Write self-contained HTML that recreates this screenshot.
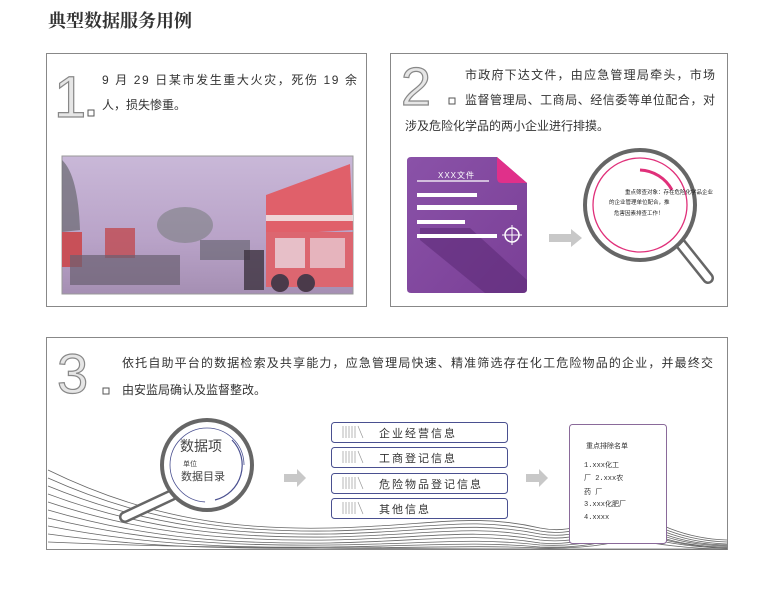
<!DOCTYPE html>
<html><head><meta charset="utf-8"><style>
html,body{margin:0;padding:0;background:#fff;}
svg{display:block;font-family:"Liberation Sans","Noto Sans CJK SC",sans-serif;}
</style></head><body>
<svg width="773" height="592" viewBox="0 0 773 592" xmlns="http://www.w3.org/2000/svg">
<defs>
<linearGradient id="ph" x1="0" y1="0" x2="0" y2="1">
<stop offset="0" stop-color="#c9b8d8"/><stop offset="0.6" stop-color="#b9a3c8"/><stop offset="1" stop-color="#a58fb3"/></linearGradient>
<linearGradient id="doc" x1="0" y1="0" x2="1" y2="1"><stop offset="0" stop-color="#8a52a8"/><stop offset="1" stop-color="#7a3f96"/></linearGradient>
</defs>
<text x="48" y="27" font-size="18" font-weight="bold" fill="#333" font-family="Liberation Serif,'Noto Serif CJK SC',serif">典型数据服务用例</text>

<!-- panel 1 -->
<rect x="46.5" y="53.5" width="320" height="253" fill="#fff" stroke="#888" stroke-width="1"/>
<text x="54" y="117" font-size="58" fill="#e6e6e6" stroke="#888" stroke-width="1.2">1</text>
<rect x="88" y="110" width="6" height="6" fill="none" stroke="#555"/>
<text x="102" y="84" font-size="12" fill="#333" textLength="255">9 月 29 日某市发生重大火灾，死伤 19 余</text>
<text x="102" y="109" font-size="12" fill="#333">人，损失惨重。</text>
<rect x="62" y="156" width="291" height="138" fill="url(#ph)" stroke="#999"/>
<path d="M62 160 Q78 175 80 230 L62 232Z" fill="#6a6a70" opacity=".7"/>
<ellipse cx="185" cy="225" rx="28" ry="18" fill="#7c7f82" opacity=".6"/>
<rect x="62" y="232" width="20" height="35" fill="#c85058"/>
<rect x="105" y="228" width="30" height="30" fill="#c05058" opacity=".85"/>
<rect x="70" y="255" width="110" height="30" fill="#6a6070" opacity=".7"/>
<rect x="200" y="240" width="50" height="20" fill="#55585e" opacity=".55"/>
<path d="M266 195 L350 164 L353 230 L266 235Z" fill="#e0606a"/>
<rect x="266" y="215" width="87" height="6" fill="#f3f3f3" opacity=".8"/>
<rect x="266" y="232" width="87" height="55" fill="#dc6670"/>
<rect x="275" y="238" width="30" height="30" fill="#ead6de" opacity=".8"/>
<rect x="310" y="238" width="35" height="30" fill="#ead6de" opacity=".7"/>
<circle cx="280" cy="283" r="9" fill="#4a3a4a"/><circle cx="306" cy="283" r="9" fill="#4a3a4a"/>
<rect x="244" y="250" width="20" height="40" fill="#3d3340" opacity=".8"/>

<!-- panel 2 -->
<rect x="390.5" y="53.5" width="337" height="253" fill="#fff" stroke="#888"/>
<text x="401" y="105" font-size="54" fill="#e6e6e6" stroke="#888" stroke-width="1.2">2</text>
<rect x="449" y="98" width="6" height="6" fill="none" stroke="#555"/>
<text x="465" y="79" font-size="12" fill="#333" textLength="250">市政府下达文件，由应急管理局牵头，市场</text>
<text x="465" y="104" font-size="12" fill="#333" textLength="250">监督管理局、工商局、经信委等单位配合，对</text>
<text x="405" y="130" font-size="12" fill="#333">涉及危险化学品的两小企业进行排摸。</text>
<path d="M411 157 H497 L527 183 V289 Q527 293 523 293 H411 Q407 293 407 289 V161 Q407 157 411 157Z" fill="url(#doc)"/>
<path d="M420 228 L470 228 L527 280 V289 Q527 293 523 293 H485 L420 240Z" fill="#5e2b78" opacity=".6"/>
<path d="M497 157 L527 183 H502 Q497 183 497 178Z" fill="#e0308a"/>
<line x1="417" y1="181" x2="489" y2="181" stroke="#fff" stroke-width="1.2"/>
<text x="438" y="178" font-size="8" fill="#fff" letter-spacing="1">XXX文件</text>
<rect x="417" y="193" width="60" height="4" fill="#fff"/>
<rect x="417" y="205" width="100" height="5" fill="#fff"/>
<rect x="417" y="220" width="48" height="4" fill="#fff"/>
<rect x="417" y="234" width="80" height="4" fill="#fff"/>
<circle cx="512" cy="235" r="7" fill="none" stroke="#fff" stroke-width="1.5"/>
<line x1="502" y1="235" x2="522" y2="235" stroke="#fff"/><line x1="512" y1="225" x2="512" y2="245" stroke="#fff"/>
<path d="M549 234 H571 V229 L582 238 L571 247 V242 H549Z" fill="#c8c8c8"/>
<line x1="676" y1="238" x2="708" y2="278" stroke="#666" stroke-width="12" stroke-linecap="round"/>
<line x1="676" y1="238" x2="708" y2="278" stroke="#fff" stroke-width="7" stroke-linecap="round"/>
<circle cx="640" cy="205" r="55" fill="#fff" stroke="#666" stroke-width="4"/>
<circle cx="640" cy="205" r="47" fill="none" stroke="#e0307a" stroke-width="1.3"/>
<path d="M640 170 A38 38 0 0 1 672 190" fill="none" stroke="#e0307a" stroke-width="3"/>
<text x="625" y="194" font-size="5.5" fill="#222">重点筛查对象：存在危险化学品企业</text>
<text x="609" y="204" font-size="5.5" fill="#222">的企业管理单位配合，推</text>
<text x="614" y="215" font-size="5.5" fill="#222">危害因素排查工作！</text>

<!-- panel 3 -->
<rect x="46.5" y="337.5" width="681" height="212" fill="#fff" stroke="#888"/>
<g fill="none" stroke="#666" stroke-width="0.8">
<path d="M48 470 C150 520 240 530 330 528 C430 526 470 512 540 528 C590 538 610 500 625 505 C640 512 670 538 727 540"/>
<path d="M48 478 C150 524 240 532 330 531 C430 529 470 516 540 531 C590 540 612 505 625 509 C640 516 670 540 727 542"/>
<path d="M48 486 C150 528 240 535 330 534 C430 532 470 520 540 534 C590 542 614 510 625 513 C642 520 670 542 727 544"/>
<path d="M48 494 C150 532 240 538 330 537 C430 535 470 524 540 537 C590 544 616 515 625 517 C644 524 670 544 727 545"/>
<path d="M48 502 C150 536 240 541 330 540 C430 538 470 528 540 540 C590 546 618 520 625 521 C646 528 670 545 727 546"/>
<path d="M48 510 C150 540 240 544 330 543 C430 541 470 532 540 543 C590 547 620 525 626 525 C648 532 670 546 727 547"/>
<path d="M48 518 C150 543 240 546 330 545 C430 544 470 537 540 545 C600 548 620 530 627 529 C650 536 680 547 727 548"/>
<path d="M48 526 C150 546 240 548 330 547 C430 546 470 541 540 547 C600 549 622 535 628 533 C650 540 690 548 727 548"/>
<path d="M48 534 C150 548 240 549 330 548 C430 548 470 545 540 548 C600 549 624 540 629 538 C650 544 690 549 727 549"/>
<path d="M48 542 C200 549 400 549 727 549"/>
</g>
<text x="57" y="393" font-size="56" fill="#e6e6e6" stroke="#888" stroke-width="1.2">3</text>
<rect x="103" y="388" width="6" height="6" fill="none" stroke="#555"/>
<text x="122" y="367" font-size="12" fill="#333" textLength="591">依托自助平台的数据检索及共享能力，应急管理局快速、精准筛选存在化工危险物品的企业，并最终交</text>
<text x="122" y="394" font-size="12" fill="#333">由安监局确认及监督整改。</text>
<line x1="172" y1="495" x2="125" y2="517" stroke="#666" stroke-width="12" stroke-linecap="round"/>
<line x1="172" y1="495" x2="125" y2="517" stroke="#fff" stroke-width="7" stroke-linecap="round"/>
<circle cx="207" cy="465" r="45" fill="#fff" stroke="#666" stroke-width="4"/>
<path d="M232 440 A36 36 0 0 1 215 500" fill="none" stroke="#4a5090" stroke-width="1.2"/>
<circle cx="207" cy="465" r="37" fill="none" stroke="#4a5090" stroke-width="0.8" stroke-dasharray="0 60 170"/>
<text x="180" y="451" font-size="14" fill="#444">数据项</text>
<text x="183" y="466" font-size="7" fill="#444">单位</text>
<text x="181" y="480" font-size="11" fill="#444">数据目录</text>
<path d="M284 474 H297 V469 L306 478 L297 487 V482 H284Z" fill="#c8c8c8"/>
<g font-size="11" fill="#333" letter-spacing="2">
<rect x="331.5" y="422.5" width="176" height="20" rx="3" fill="#fff" stroke="#4a5090"/>
<text x="379" y="437">企业经营信息</text>
<rect x="331.5" y="447.5" width="176" height="20" rx="3" fill="#fff" stroke="#4a5090"/>
<text x="379" y="462">工商登记信息</text>
<rect x="331.5" y="473.5" width="176" height="20" rx="3" fill="#fff" stroke="#4a5090"/>
<text x="379" y="488">危险物品登记信息</text>
<rect x="331.5" y="498.5" width="176" height="20" rx="3" fill="#fff" stroke="#4a5090"/>
<text x="379" y="513">其他信息</text>
</g>
<g stroke="#999" stroke-width="0.7" fill="none">
<path d="M343 426v12M346 426v12M349 426v12M352 426v12M355 426v12M358 426l5 12"/>
<path d="M343 451v12M346 451v12M349 451v12M352 451v12M355 451v12M358 451l5 12"/>
<path d="M343 477v12M346 477v12M349 477v12M352 477v12M355 477v12M358 477l5 12"/>
<path d="M343 502v12M346 502v12M349 502v12M352 502v12M355 502v12M358 502l5 12"/>
</g>
<path d="M526 474 H539 V469 L548 478 L539 487 V482 H526Z" fill="#c8c8c8"/>
<rect x="569.5" y="424.5" width="97" height="119" rx="3" fill="#fff" stroke="#8a6a9a"/>
<g font-size="7" fill="#333" font-family="Liberation Mono,'Noto Sans CJK SC',monospace">
<text x="586" y="448">重点排除名单</text>
<text x="584" y="467">1.xxx化工</text>
<text x="584" y="480">厂 2.xxx农</text>
<text x="584" y="494">药      厂</text>
<text x="584" y="506">3.xxx化肥厂</text>
<text x="584" y="519">4.xxxx</text>
</g>
</svg>
</body></html>
